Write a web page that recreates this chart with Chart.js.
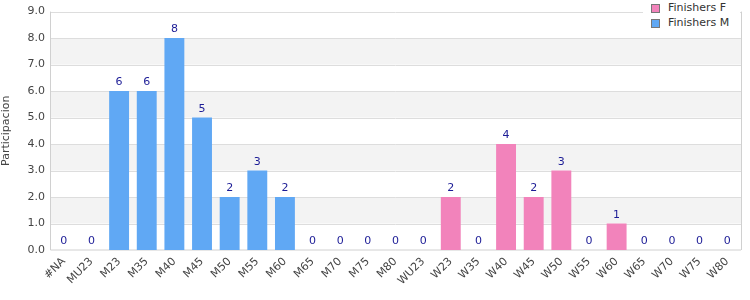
<!DOCTYPE html>
<html>
<head>
<meta charset="utf-8">
<script src="https://cdn.jsdelivr.net/npm/chart.js@4"></script>
<style>
  body { margin: 0; background: #fff; }
  .wrap { position: relative; width: 750px; height: 300px; }
  .legend {
    position: absolute; left: 643px; top: 0; width: 97px; height: 31px;
    background: #fff; font: 11px "DejaVu Sans", sans-serif; color: #333;
  }
  .legend div { position: absolute; left: 25px; line-height: 14px; }
  .legend span {
    position: absolute; left: -17px; top: 3px; width: 7px; height: 7px;
    border: 1px solid #777;
  }
</style>
</head>
<body>
<div class="wrap">
  <canvas id="chart" width="750" height="300"></canvas>
  <div class="legend">
    <div style="top:1px"><span style="background:#f283bb"></span>Finishers F</div>
    <div style="top:16px"><span style="background:#60a8f4"></span>Finishers M</div>
  </div>
</div>
<script>
const categories = ["#NA", "MU23", "M23", "M35", "M40", "M45", "M50", "M55", "M60", "M65", "M70", "M75", "M80",
  "WU23", "W23", "W35", "W40", "W45", "W50", "W55", "W60", "W65", "W70", "W75", "W80"];
const finishersF = [0, 0, 0, 0, 0, 0, 0, 0, 0, 0, 0, 0, 0, 0, 2, 0, 4, 2, 3, 0, 1, 0, 0, 0, 0];
const finishersM = [0, 0, 6, 6, 8, 5, 2, 3, 2, 0, 0, 0, 0, 0, 0, 0, 0, 0, 0, 0, 0, 0, 0, 0, 0];

// alternating grey bands behind the bars + plot border
const bandsPlugin = {
  id: "bands",
  beforeDatasetsDraw(chart) {
    const { ctx, chartArea, scales } = chart;
    const y = scales.y;
    ctx.save();
    ctx.fillStyle = "#f3f3f3";
    for (let v = 1; v < 9; v += 2) {
      const top = y.getPixelForValue(v + 1);
      const bottom = y.getPixelForValue(v);
      ctx.fillRect(chartArea.left, top, chartArea.right - chartArea.left, bottom - top);
    }
    ctx.strokeStyle = "#dddddd";
    ctx.lineWidth = 1;
    for (let v = 1; v <= 9; v++) {
      const py = Math.round(y.getPixelForValue(v)) + 0.5;
      ctx.beginPath();
      ctx.moveTo(chartArea.left, py);
      ctx.lineTo(chartArea.right, py);
      ctx.stroke();
    }
    ctx.strokeStyle = "#d0d0d0";
    ctx.beginPath();
    ctx.moveTo(chartArea.right + 0.5, chartArea.top);
    ctx.lineTo(chartArea.right + 0.5, chartArea.bottom);
    ctx.moveTo(chartArea.left + 0.5, chartArea.top);
    ctx.lineTo(chartArea.left + 0.5, chartArea.bottom);
    ctx.lineTo(chartArea.right, chartArea.bottom);
    ctx.stroke();
    ctx.restore();
  }
};

// total value above each column
const totalsPlugin = {
  id: "totals",
  afterDatasetsDraw(chart) {
    const { ctx, scales } = chart;
    ctx.save();
    ctx.font = "11px 'DejaVu Sans', sans-serif";
    ctx.fillStyle = "#1c1c96";
    ctx.textAlign = "center";
    ctx.textBaseline = "bottom";
    categories.forEach((c, i) => {
      const total = finishersF[i] + finishersM[i];
      const x = scales.x.getPixelForValue(i);
      const y = scales.y.getPixelForValue(total);
      ctx.fillText(String(total), x, y - 3);
    });
    ctx.restore();
  }
};

new Chart(document.getElementById("chart"), {
  type: "bar",
  data: {
    labels: categories,
    datasets: [
      { label: "Finishers F", data: finishersF, backgroundColor: "#f283bb", categoryPercentage: 0.72, barPercentage: 1 },
      { label: "Finishers M", data: finishersM, backgroundColor: "#60a8f4", categoryPercentage: 0.72, barPercentage: 1 },
    ],
  },
  options: {
    responsive: false,
    animation: false,
    layout: { padding: { top: 10, right: 9, left: 0, bottom: 0 } },
    plugins: {
      legend: { display: false },
      tooltip: { enabled: false },
    },
    scales: {
      x: {
        stacked: true,
        grid: { display: false, drawTicks: false },
        border: { display: false },
        ticks: {
          minRotation: 45, maxRotation: 45, autoSkip: false, padding: 5,
          color: "#444", font: { family: "DejaVu Sans", size: 11 },
        },
        afterFit(scale) { scale.height = 50; },
      },
      y: {
        stacked: true,
        min: 0, max: 9,
        grid: { display: false, drawTicks: false },
        border: { display: false },
        ticks: {
          stepSize: 1, padding: 5,
          color: "#444", font: { family: "DejaVu Sans", size: 11 },
          callback: (v) => v.toFixed(1),
        },
        title: {
          display: true, text: "Participacion", color: "#444",
          font: { family: "DejaVu Sans", size: 11 }, padding: { top: 0, bottom: 4 },
        },
        afterFit(scale) { scale.width = 50; },
      },
    },
  },
  plugins: [bandsPlugin, totalsPlugin],
});
</script>
</body>
</html>
